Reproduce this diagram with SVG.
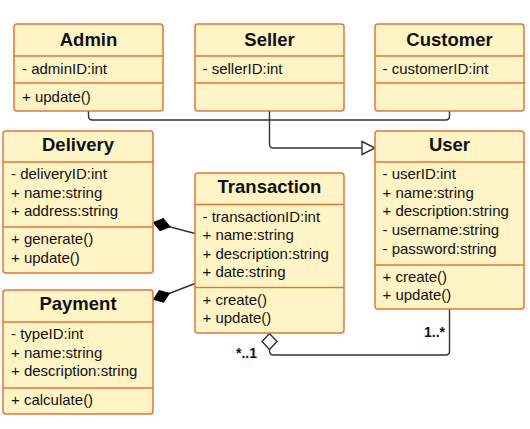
<svg xmlns="http://www.w3.org/2000/svg" width="530" height="429" viewBox="0 0 530 429">
<style>
.box{fill:#FEF4C6;stroke:#E0773A;stroke-width:1.5}
.div{stroke:#E0773A;stroke-width:1.5}
.t{font-family:"Liberation Sans",Arial,sans-serif;font-weight:bold;font-size:18.5px;fill:#111;text-anchor:middle}
.a{font-family:"Liberation Sans",Arial,sans-serif;font-size:15px;fill:#111}
.lbl{font-family:"Liberation Sans",Arial,sans-serif;font-weight:bold;font-size:14px;fill:#111}
.c{fill:none;stroke:#333;stroke-width:1.4}
</style>
<defs>
<marker id="comp" markerUnits="userSpaceOnUse" markerWidth="20" markerHeight="14" refX="0" refY="7" orient="auto" viewBox="0 0 20 14" overflow="visible">
<path d="M0,7 L8.5,0.8 L17,7 L8.5,13.2 Z" fill="#000" stroke="#000" stroke-width="1"/>
</marker>
<marker id="agg" markerUnits="userSpaceOnUse" markerWidth="20" markerHeight="14" refX="0" refY="7" orient="auto" viewBox="0 0 20 14" overflow="visible">
<path d="M0,7 L8,-0.5 L16,7 L8,14.5 Z" fill="#fff" stroke="#333" stroke-width="1.4"/>
</marker>
<marker id="gen" markerUnits="userSpaceOnUse" markerWidth="16" markerHeight="16" refX="13" refY="8" orient="auto" viewBox="0 0 16 16" overflow="visible">
<path d="M0,1.5 L13,8 L0,14.5 Z" fill="#fff" stroke="#333" stroke-width="1.4"/>
</marker>
</defs>
<g id="connectors">
<path class="c" d="M88.5,111 V116 Q88.5,120 92.5,120 H445.5 Q449.5,120 449.5,116 V111"/>
<path class="c" d="M269.5,111 V144 Q269.5,148 273.5,148 H375" marker-end="url(#gen)"/>
<path class="c" d="M153.5,222.5 L195,233.5" marker-start="url(#comp)"/>
<path class="c" d="M153.5,299.5 L195,283.5" marker-start="url(#comp)"/>
<path class="c" d="M269.5,333.5 V351 Q269.5,355 273.5,355 H445.5 Q449.5,355 449.5,351 V309" marker-start="url(#agg)"/>
<text class="lbl" x="257" y="358" text-anchor="end">*..1</text>
<text class="lbl" x="445" y="337" text-anchor="end">1..*</text>
</g>
<g id="admin">
<rect class="box" x="14" y="24" width="149" height="87" rx="3"/>
<line class="div" x1="14" y1="56" x2="163" y2="56"/>
<line class="div" x1="14" y1="83" x2="163" y2="83"/>
<text class="t" x="88.5" y="46">Admin</text>
<text class="a" x="22" y="74">- adminID:int</text>
<text class="a" x="22" y="102">+ update()</text>
</g>
<g id="seller">
<rect class="box" x="195" y="24" width="149" height="87" rx="3"/>
<line class="div" x1="195" y1="56" x2="344" y2="56"/>
<line class="div" x1="195" y1="83" x2="344" y2="83"/>
<text class="t" x="269.5" y="46">Seller</text>
<text class="a" x="202.5" y="74">- sellerID:int</text>
</g>
<g id="customer">
<rect class="box" x="375" y="24" width="149" height="87" rx="3"/>
<line class="div" x1="375" y1="56" x2="524" y2="56"/>
<line class="div" x1="375" y1="83" x2="524" y2="83"/>
<text class="t" x="449.5" y="46">Customer</text>
<text class="a" x="382.5" y="74">- customerID:int</text>
</g>
<g id="delivery">
<rect class="box" x="3" y="131" width="150" height="142" rx="3"/>
<line class="div" x1="3" y1="162" x2="153" y2="162"/>
<line class="div" x1="3" y1="227" x2="153" y2="227"/>
<text class="t" x="78" y="151">Delivery</text>
<text class="a" x="11" y="179">- deliveryID:int</text>
<text class="a" x="11" y="197.5">+ name:string</text>
<text class="a" x="11" y="216">+ address:string</text>
<text class="a" x="11" y="244">+ generate()</text>
<text class="a" x="11" y="262.5">+ update()</text>
</g>
<g id="payment">
<rect class="box" x="3" y="290" width="150" height="124" rx="3"/>
<line class="div" x1="3" y1="322" x2="153" y2="322"/>
<line class="div" x1="3" y1="388" x2="153" y2="388"/>
<text class="t" x="78" y="310">Payment</text>
<text class="a" x="11" y="339">- typeID:int</text>
<text class="a" x="11" y="357.5">+ name:string</text>
<text class="a" x="11" y="376">+ description:string</text>
<text class="a" x="11" y="405">+ calculate()</text>
</g>
<g id="transaction">
<rect class="box" x="195" y="173" width="149" height="160" rx="3"/>
<line class="div" x1="195" y1="204.5" x2="344" y2="204.5"/>
<line class="div" x1="195" y1="287.5" x2="344" y2="287.5"/>
<text class="t" x="269.5" y="193">Transaction</text>
<text class="a" x="202.5" y="222">- transactionID:int</text>
<text class="a" x="202.5" y="240.3">+ name:string</text>
<text class="a" x="202.5" y="258.6">+ description:string</text>
<text class="a" x="202.5" y="276.9">+ date:string</text>
<text class="a" x="202.5" y="305">+ create()</text>
<text class="a" x="202.5" y="323">+ update()</text>
</g>
<g id="user">
<rect class="box" x="375" y="131" width="149" height="178" rx="3"/>
<line class="div" x1="375" y1="162" x2="524" y2="162"/>
<line class="div" x1="375" y1="265" x2="524" y2="265"/>
<text class="t" x="449.5" y="151">User</text>
<text class="a" x="382.5" y="179">- userID:int</text>
<text class="a" x="382.5" y="197.7">+ name:string</text>
<text class="a" x="382.5" y="216.4">+ description:string</text>
<text class="a" x="382.5" y="235.1">- username:string</text>
<text class="a" x="382.5" y="253.8">- password:string</text>
<text class="a" x="382.5" y="281.5">+ create()</text>
<text class="a" x="382.5" y="300">+ update()</text>
</g>
</svg>
